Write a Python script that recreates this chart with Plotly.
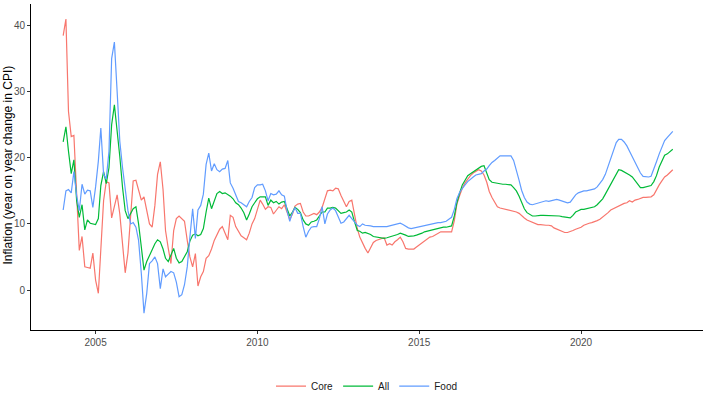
import pandas as pd
import plotly.graph_objects as go

# Monthly year-on-year CPI inflation, Jan 2004 - Nov 2022
start_month = "2004-01-01"

core = [
    38.5, 41.0, 27.0, 23.2, 23.4, 13.6, 6.0, 8.1, 3.5, 3.4,
    3.3, 5.6, 1.5, -0.5, 6.0, 13.5, 16.4, 16.2, 10.9, 12.5,
    14.4, 11.5, 7.5, 2.6, 5.6, 11.0, 16.5, 16.6, 15.0, 13.6,
    14.1, 12.0, 10.0, 9.5, 12.8, 17.5, 19.4, 15.2, 9.0, 6.3,
    4.0, 9.0, 10.8, 11.2, 10.8, 10.4, 7.5, 5.0, 3.5, 5.5,
    0.6, 2.0, 2.8, 4.8, 5.2, 6.2, 7.5, 8.3, 9.2, 9.6,
    8.5, 7.6, 11.3, 11.0, 9.6, 8.8, 8.2, 7.9, 7.6, 8.6,
    10.0, 10.8, 12.2, 13.6, 13.0, 12.2, 12.6, 12.5, 11.5, 12.0,
    12.6, 12.3, 12.9, 11.8, 10.7, 11.5, 12.7, 13.0, 13.1, 11.8,
    11.2, 11.2, 11.4, 11.6, 11.4, 11.8, 12.5, 13.8, 15.0, 15.1,
    15.0, 15.4, 15.3, 14.3, 13.3, 12.6, 13.4, 13.6, 11.4, 9.3,
    8.0, 7.1, 6.3, 5.6, 6.4, 7.2, 7.5, 7.6, 7.7, 7.9,
    6.8, 7.0, 6.8, 7.3, 7.6, 8.0, 7.3, 6.3, 6.2, 6.2,
    6.2, 6.5, 6.8, 7.2, 7.5, 7.7, 8.0, 8.1, 8.3, 8.6,
    8.8, 8.8, 8.8, 8.8, 8.8, 10.5, 13.0, 14.3, 15.4, 16.2,
    16.8, 17.3, 17.7, 17.9, 18.2, 18.0, 17.4, 16.3, 14.9, 14.0,
    13.2, 12.6, 12.4, 12.3, 12.2, 12.1, 12.1, 12.0, 11.8, 11.6,
    11.2, 10.9, 10.6, 10.4, 10.2, 10.0, 9.9, 9.9, 9.8, 9.8,
    9.8, 9.7, 9.4, 9.2, 9.0, 8.8, 8.7, 8.7, 8.8, 9.0,
    9.2, 9.3, 9.5, 9.8, 10.0, 10.1, 10.2, 10.3, 10.5, 10.7,
    11.0, 11.3, 11.7, 12.1, 12.3, 12.5, 12.8, 12.9, 13.1, 13.2,
    13.5, 13.3, 13.6, 13.7, 13.9, 14.0, 14.0, 14.0, 14.1, 14.4,
    15.2, 15.9, 16.5, 17.1, 17.4, 17.8, 18.2,
]

all_items = [
    22.4, 24.7, 21.0, 17.6, 19.7, 13.5, 11.0, 12.9, 9.1, 10.6,
    10.1, 10.0, 9.9, 10.8, 15.8, 17.9, 16.1, 18.5, 25.0, 28.0,
    24.2, 20.2, 15.5, 12.0, 10.8, 11.5, 12.3, 12.6, 10.0, 6.5,
    3.0, 4.3, 5.2, 6.2, 7.0, 7.6, 7.3, 6.2, 4.8, 4.3,
    5.2, 6.3, 4.8, 4.1, 4.3, 5.0, 5.8, 7.4, 8.3, 8.5,
    8.2, 8.4, 9.3, 11.8, 13.9, 12.3, 13.4, 14.6, 14.9, 14.6,
    14.7, 14.5, 14.2, 13.8, 13.2, 12.9, 12.4, 11.7, 10.6, 11.5,
    12.6, 13.2, 13.8, 14.1, 14.1, 14.1, 12.8, 13.6, 13.2, 13.4,
    13.0, 13.3, 13.4, 12.4, 11.2, 11.8, 12.5, 12.2, 11.7, 10.6,
    10.0, 9.8, 10.3, 10.4, 10.6, 11.2, 11.8, 11.8, 12.4, 12.4,
    12.5, 12.4, 12.0, 11.6, 11.7, 11.8, 12.1, 11.8, 10.3, 9.0,
    8.9, 8.6, 8.7, 8.6, 8.4, 8.1, 8.0, 8.0, 7.9, 7.8,
    7.9, 8.0, 8.2, 8.3, 8.4, 8.6, 8.5, 8.3, 8.1, 8.1,
    8.2, 8.3, 8.4, 8.6, 8.8, 8.9, 9.1, 9.2, 9.3, 9.4,
    9.4, 9.5, 9.5, 9.6, 9.7, 11.2, 13.2, 14.7, 15.9, 16.6,
    17.3, 17.6, 17.9, 18.2, 18.4, 18.7, 18.8, 17.6, 16.7, 16.3,
    16.2, 16.2, 16.1, 16.0, 16.0, 15.9, 15.9, 15.5, 15.0, 14.2,
    13.3, 12.3, 11.7, 11.4, 11.2, 11.2, 11.3, 11.3, 11.3, 11.3,
    11.3, 11.2, 11.2, 11.2, 11.2, 11.1, 11.0, 10.9, 10.9, 11.3,
    11.8, 12.0, 12.2, 12.2, 12.3, 12.4, 12.5, 12.6, 12.9, 13.3,
    13.8, 14.5, 15.3, 16.1, 16.9, 17.6, 18.2, 18.1, 17.9, 17.7,
    17.4, 17.1, 16.6, 16.1, 15.5, 15.5, 15.6, 15.6, 15.8, 16.4,
    17.3, 18.6, 19.6, 20.4, 20.6, 20.9, 21.3,
]

food = [
    12.1, 15.0, 15.2, 14.7, 17.9, 14.3, 12.0, 16.0, 14.5, 15.1,
    15.0, 12.5, 15.6, 19.5, 24.5, 17.5, 16.8, 21.0, 35.0, 37.5,
    30.0, 22.5, 18.5, 15.2, 12.0, 10.0, 10.2, 9.5, 7.5, 2.5,
    -3.5, -0.5, 4.0, 4.4, 5.0, 4.0, 0.2, 3.2, 2.0, 2.4,
    2.8, 2.6, 1.2, -1.0, -0.7, 0.8, 3.5, 8.0, 12.3, 7.8,
    12.1, 12.8, 14.5, 19.0, 20.7, 18.0, 19.1, 18.2, 17.9, 18.3,
    18.4, 19.6, 16.2, 15.4, 14.5, 13.4, 13.2, 12.9, 12.6, 13.4,
    14.0, 15.5, 15.9, 15.9, 16.0, 15.0, 13.5, 14.6, 14.4, 14.5,
    15.0, 14.4, 14.2, 12.0, 10.4, 11.7, 12.5, 11.6, 11.6, 9.6,
    8.0, 8.9, 9.5, 9.6, 9.6, 10.8, 12.6, 10.0, 11.5, 12.1,
    12.4, 12.0, 11.0, 10.1, 10.3, 10.8, 11.3, 10.8, 10.3, 9.8,
    9.6, 10.0, 9.8, 9.8, 9.7, 9.6, 9.6, 9.5, 9.5, 9.6,
    9.6, 9.7, 9.8, 9.9, 10.1, 10.1, 9.9, 9.6, 9.4, 9.3,
    9.4, 9.5, 9.6, 9.7, 9.8, 9.9, 10.0, 10.1, 10.1, 10.2,
    10.2, 10.3, 10.4, 10.7, 11.0, 12.2, 13.8, 14.8, 15.4, 15.9,
    16.4, 16.8, 17.1, 17.4, 17.5, 17.6, 18.0, 18.3, 18.8, 19.3,
    19.6, 19.9, 20.3, 20.3, 20.3, 20.3, 20.3, 19.6, 18.2, 16.6,
    15.1, 14.0, 13.3, 13.0, 12.9, 13.0, 13.2, 13.3, 13.4, 13.5,
    13.4, 13.5, 13.6, 13.7, 13.6, 13.5, 13.4, 13.2, 13.3, 13.9,
    14.4, 14.7, 14.9, 15.0, 15.0, 15.1, 15.2, 15.3, 15.6, 16.1,
    16.7, 17.5, 18.8, 20.0, 21.1, 22.3, 22.8, 22.8, 22.4, 21.8,
    21.0, 20.2, 19.5, 18.6, 17.7, 17.2, 17.1, 17.1, 17.2, 18.2,
    19.4, 20.6, 21.6, 22.6, 23.1, 23.5, 24.0,
]

series_names = ["Core", "All", "Food"]
series_colors = ["#F8766D", "#00BA38", "#619CFF"]
x_tick_years = ["2005-01-01", "2010-01-01", "2015-01-01", "2020-01-01"]
x_tick_labels = ["2005", "2010", "2015", "2020"]
y_tick_values = [0, 10, 20, 30, 40]

assert len(core) == len(all_items) == len(food), (len(core), len(all_items), len(food))
dates = pd.date_range(start_month, periods=len(core), freq="MS")

fig = go.Figure()
for name, vals, col in zip(series_names, [core, all_items, food], series_colors):
    fig.add_trace(go.Scatter(
        x=dates, y=vals, mode="lines", name=name,
        line=dict(color=col, width=1.2),
    ))

fig.update_layout(
    width=726, height=399,
    margin=dict(l=31, r=23, t=4, b=69, autoexpand=False),
    paper_bgcolor="white", plot_bgcolor="white",
    font=dict(family="Liberation Sans, Arial, sans-serif", color="#4D4D4D"),
    legend=dict(
        orientation="h", x=0.5, xanchor="center", y=-0.172, yanchor="middle",
        font=dict(size=10, color="#1A1A1A"), itemwidth=30,
        bgcolor="rgba(0,0,0,0)",
    ),
    showlegend=True,
)
fig.update_xaxes(
    type="date", range=["2003-01-03", "2023-10-08"], automargin=False,
    tickvals=x_tick_years, ticktext=x_tick_labels,
    showgrid=False, zeroline=False,
    showline=True, linecolor="#000000", linewidth=1,
    ticks="outside", ticklen=3, tickcolor="#333333", tickwidth=1,
    tickfont=dict(size=10, color="#4D4D4D"),
)
fig.update_yaxes(
    range=[-6.05, 43.27], automargin=False,
    tickvals=y_tick_values,
    showgrid=False, zeroline=False,
    showline=True, linecolor="#000000", linewidth=1,
    ticks="outside", ticklen=3, tickcolor="#333333", tickwidth=1,
    tickfont=dict(size=10, color="#4D4D4D"),
)
fig.add_annotation(
    text="Inflation (year on year change in CPI)",
    xref="paper", yref="paper", x=-0.034, y=0.505,
    xanchor="center", yanchor="middle", textangle=-90,
    showarrow=False, font=dict(size=12, color="#000000"),
)

fig.write_html(
    "out.html",
    config={"displayModeBar": False},
    post_script="document.body.style.margin='0px';document.body.style.padding='0px';",
)
